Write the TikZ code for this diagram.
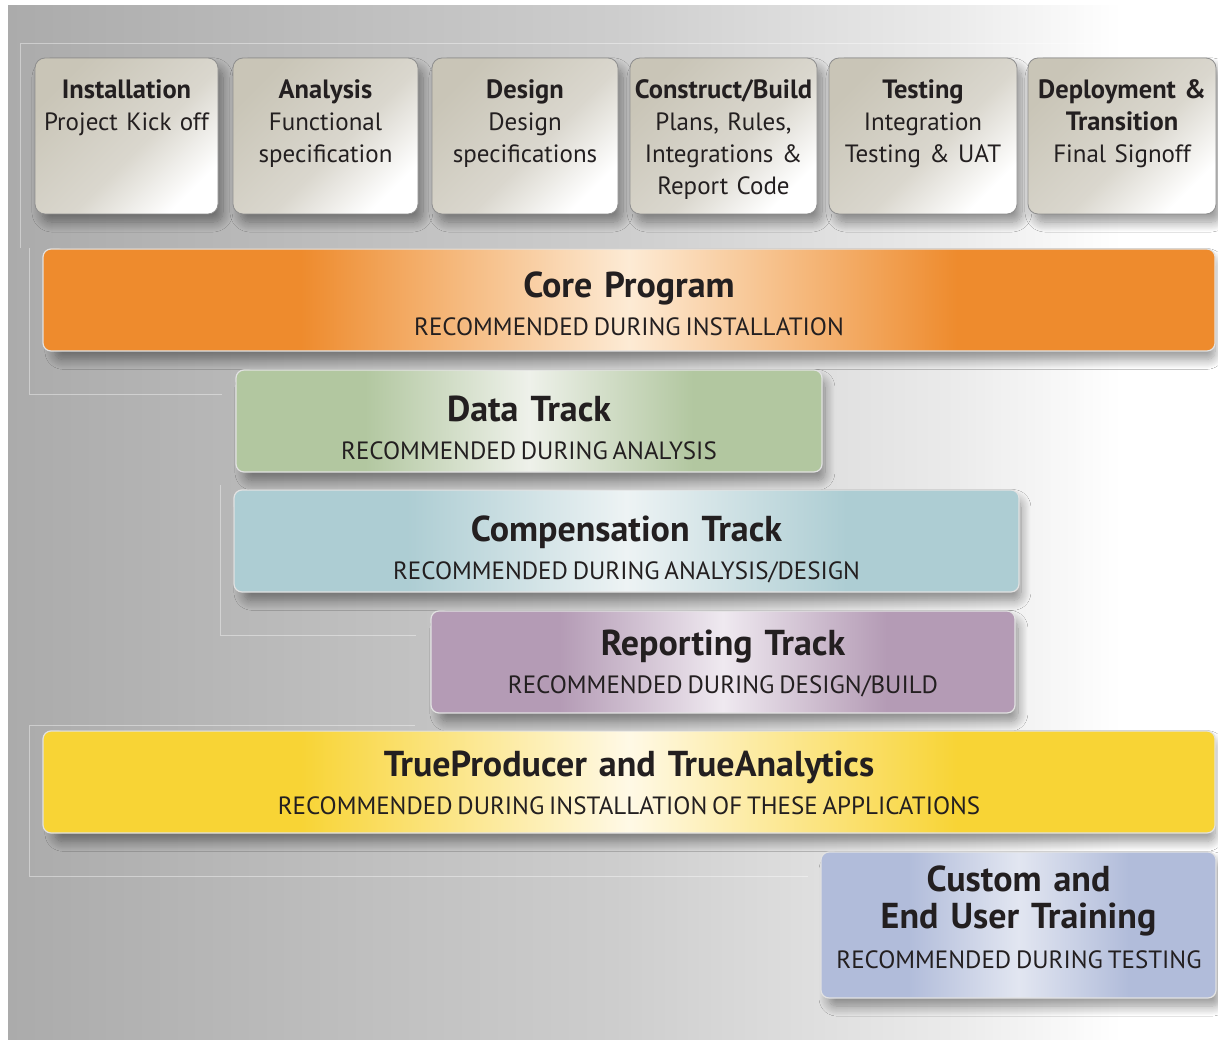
\documentclass[tikz,border=0pt]{standalone}
\usepackage{fontspec}
\setmainfont[WordSpace=0.72]{PT Sans}
\usetikzlibrary{shadows.blur}

\definecolor{txt}{HTML}{231F20}
\definecolor{bgL}{HTML}{ABABAB}
\definecolor{bgM}{HTML}{CDCDCD}
\definecolor{phA}{HTML}{C9C5B7}
\definecolor{phB}{HTML}{DAD7CE}
\definecolor{phBorder}{HTML}{8E8E8E}
\definecolor{barBorder}{HTML}{E2E2E2}
\definecolor{cOr}{HTML}{EE8B2D}\definecolor{cOrL}{HTML}{FDEBD5}
\definecolor{cGr}{HTML}{B2C7A0}\definecolor{cGrL}{HTML}{EEF1EA}
\definecolor{cBl}{HTML}{ADCDD3}\definecolor{cBlL}{HTML}{EDF3F4}
\definecolor{cPu}{HTML}{B49BB5}\definecolor{cPuL}{HTML}{EFE9F0}
\definecolor{cYe}{HTML}{F8D435}\definecolor{cYeL}{HTML}{FFF9E6}
\definecolor{cLa}{HTML}{B1BCDA}\definecolor{cLaL}{HTML}{E2E6F1}

\pgfdeclarehorizontalshading{bgshade}{100bp}{color(0bp)=(bgL); color(25bp)=(bgL); color(50bp)=(bgM); color(64bp)=(white!92!black); color(71bp)=(white); color(100bp)=(white)}
\pgfdeclareverticalshading{phaseshade}{100bp}{color(0bp)=(white); color(25bp)=(white); color(45bp)=(phB); color(75bp)=(phA); color(100bp)=(phA)}
\newcommand\mkbarshade[3]{\pgfdeclarehorizontalshading{#1}{100bp}{color(0bp)=(#2); color(36bp)=(#2); color(50bp)=(#3); color(64bp)=(#2); color(100bp)=(#2)}}
\mkbarshade{shOr}{cOr}{cOrL}
\mkbarshade{shGr}{cGr}{cGrL}
\mkbarshade{shBl}{cBl}{cBlL}
\mkbarshade{shPu}{cPu}{cPuL}
\mkbarshade{shYe}{cYe}{cYeL}
\mkbarshade{shLa}{cLa}{cLaL}

\tikzset{
  softshadow/.style={blur shadow={shadow xshift=6pt, shadow yshift=-9pt, shadow scale=0.99, shadow opacity=42, shadow blur radius=10pt, shadow blur steps=12}},
  phase/.style={draw=phBorder, line width=0.8pt, rounded corners=10pt, shade, shading=phaseshade, shading angle=45,
    inner sep=0pt, outer sep=0pt, minimum height=156pt, softshadow},
  bar/.style={draw=barBorder, line width=1.2pt, rounded corners=8pt, shade, inner sep=0pt, outer sep=0pt,
    minimum height=102pt, softshadow},
  ttl/.style={font=\bfseries\fontsize{36}{37}\selectfont, text=txt, anchor=base, inner sep=0pt, align=center, text width=600pt},
  subttl/.style={font=\fontsize{25}{30}\selectfont, text=txt, anchor=base, inner sep=0pt},
  phtxt/.style={font=\fontsize{25}{32}\selectfont, text=txt, anchor=base, inner sep=0pt, align=center, text width=230pt},
  frameline/.style={draw=white, draw opacity=0.4, line width=0.9pt},
}
\newcommand\phb[1]{{\bfseries\fontsize{26.5}{32}\selectfont #1}}

\begin{document}
\begin{tikzpicture}[x=1pt, y=-1pt]
\useasboundingbox (0,0) rectangle (1218,1040);
\fill[white] (0,0) rectangle (1218,1040);
\shade[shading=bgshade] (8,6) rectangle (1218,1040);

% faint frame lines
\draw[frameline] (20,248) -- (20,43) -- (1218,43);
\draw[frameline] (29,248) -- (29,394) -- (222,394);
\draw[frameline] (220,485) -- (220,635) -- (416,635);
\draw[frameline] (415,725) -- (29,725) -- (29,876) -- (808,876);

% phase boxes
\node[phase, minimum width=183pt] (p1) at (126.5,136) {};
\node[phase, minimum width=185pt] (p2) at (325.5,136) {};
\node[phase, minimum width=186pt] (p3) at (525,136) {};
\node[phase, minimum width=187pt] (p4) at (723.5,136) {};
\node[phase, minimum width=188pt] (p5) at (923,136) {};
\node[phase, minimum width=188pt] (p6) at (1122,136) {};

\node[phtxt] (p1t) at (126.5,99) {\phb{Installation}\\Project Kick off};
\node[phtxt] (p2t) at (325.5,99) {\phb{Analysis}\\Functional\\specification};
\node[phtxt] (p3t) at (525,99) {\phb{Design}\\Design\\specifications};
\node[phtxt] (p4t) at (723.5,99) {\phb{Construct/Build}\\Plans, Rules,\\Integrations \&\\Report Code};
\node[phtxt] (p5t) at (923,99) {\phb{Testing}\\Integration\\Testing \& UAT};
\node[phtxt] (p6t) at (1122,99) {\phb{Deployment \&}\\\phb{Transition}\\Final Signoff};

% bars
\node[bar, shading=shOr, minimum width=1172pt] (core) at (629,300) {};
\node[bar, shading=shGr, minimum width=586pt] (data) at (529,421) {};
\node[bar, shading=shBl, minimum width=785pt] (comp) at (626.5,541) {};
\node[bar, shading=shPu, minimum width=584pt] (rep) at (723,662) {};
\node[bar, shading=shYe, minimum width=1172pt] (tru) at (629,782) {};
\node[bar, shading=shLa, minimum width=395pt, minimum height=146pt] (cus) at (1018.5,925) {};

\node[ttl] (coreT) at (629,298) {Core Program};
\node[subttl] (coreS) at (629,336) {RECOMMENDED DURING INSTALLATION};
\node[ttl] (dataT) at (529,421) {Data Track};
\node[subttl] (dataS) at (529,459) {RECOMMENDED DURING ANALYSIS};
\node[ttl] (compT) at (626.5,541) {Compensation Track};
\node[subttl] (compS) at (626.5,579) {RECOMMENDED DURING ANALYSIS/DESIGN};
\node[ttl] (repT) at (723,655) {Reporting Track};
\node[subttl] (repS) at (723,693) {RECOMMENDED DURING DESIGN/BUILD};
\node[ttl] (truT) at (629,776) {TrueProducer and TrueAnalytics};
\node[subttl] (truS) at (629,814) {RECOMMENDED DURING INSTALLATION OF THESE APPLICATIONS};
\node[ttl] (cusT) at (1018.5,891) {Custom and\\End User Training};
\node[subttl] (cusS) at (1019,968) {RECOMMENDED DURING TESTING};
\end{tikzpicture}
\end{document}
